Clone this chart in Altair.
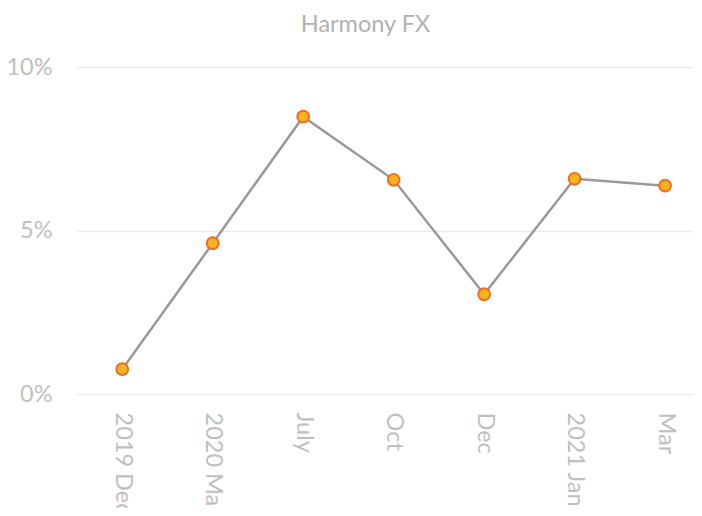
import altair as alt
import pandas as pd

categories = ["2019 Dec", "2020 Mar", "July", "Oct", "Dec", "2021 Jan", "Mar"]
values = [0.0076, 0.0461, 0.0848, 0.0655, 0.0305, 0.0658, 0.0637]
y_ticks = [0.0, 0.05, 0.10]

df = pd.DataFrame({"period": categories, "value": values, "order": list(range(len(categories)))})

FONT = "Lato"
LABEL = "#bfbfbf"
FS = 23.5

x_enc = alt.X(
    "period:N",
    sort=categories,
    scale=alt.Scale(type="point", padding=0.41, align=0.61),
    axis=alt.Axis(
        title=None, labelAngle=90, labelAlign="left", labelBaseline="middle",
        labelPadding=18, labelFontSize=FS, labelColor=LABEL, labelFont=FONT,
        domain=False, ticks=False, grid=False,
    ),
)
y_enc = alt.Y(
    "value:Q",
    scale=alt.Scale(domain=[0, 0.10], nice=False, zero=True),
    axis=alt.Axis(
        title=None, values=y_ticks, format=".0%", domain=False, ticks=False,
        tickSize=0, labelPadding=25, labelFontSize=FS, labelColor=LABEL,
        labelFont=FONT, gridColor="#ececec", gridWidth=1.5,
    ),
)

line = alt.Chart(df).mark_line(color="#999999", strokeWidth=2.5).encode(
    x=x_enc, y=y_enc, order="order:Q"
)
points = alt.Chart(df).mark_point(
    filled=True, fill="#f5b41e", stroke="#f26b28", strokeWidth=2, size=140, opacity=1
).encode(x=x_enc, y=y_enc)

chart = (
    alt.layer(line, points)
    .properties(
        width=617,
        height=327,
        title=alt.TitleParams(
            "Harmony FX", fontSize=FS, font=FONT, color="#b3b3b3", fontWeight="normal",
            anchor="middle", frame="group", dx=-20, offset=0, baseline="alphabetic",
        ),
        autosize=alt.AutoSizeParams(type="none"),
        padding={"left": 69, "top": 59, "right": 0, "bottom": 114},
    )
    .configure_view(stroke=None)
)

chart.save("out.html", embed_options={"renderer": "svg", "actions": False})
